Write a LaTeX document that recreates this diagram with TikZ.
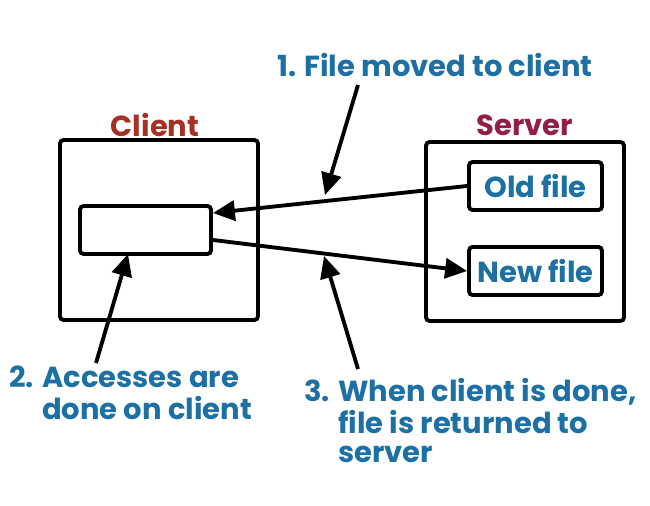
\documentclass[tikz,border=0pt]{standalone}
\usepackage{fontspec}
\setmainfont{Poppins}
\usetikzlibrary{arrows.meta}
\definecolor{notetext}{RGB}{28,112,164}
\definecolor{clientred}{RGB}{165,48,36}
\definecolor{serverred}{RGB}{148,28,72}
\tikzset{
  box/.style={draw, line width=2.2pt, rounded corners=2pt},
  note/.style={text=notetext, font=\bfseries\fontsize{16.5}{16.5}\selectfont, inner sep=0pt},
  title/.style={font=\bfseries\fontsize{16.5}{16.5}\selectfont, inner sep=0pt},
  pointer/.style={line width=2.2pt, -{Triangle[length=0.44cm,width=0.4cm]}}
}
\begin{document}
\begin{tikzpicture}[x=0.02cm, y=-0.02cm]
    \useasboundingbox (0,0) rectangle (650,506);
    % client side
    \node[box, minimum width=3.96cm, minimum height=3.6cm] (client) at (159,230) {};
    \node[title, text=clientred] (clientlbl) at (155,125) {Client};
    \node[box, minimum width=2.62cm, minimum height=0.96cm] (copy) at (145.5,230) {};
    % server side
    \node[box, minimum width=3.96cm, minimum height=3.58cm] (server) at (525,231.5) {};
    \node[title, text=serverred] (serverlbl) at (525,125) {Server};
    \node[box, note, minimum width=2.66cm, minimum height=0.96cm] (oldfile) at (535.5,186) {Old file};
    \node[box, note, minimum width=2.66cm, minimum height=0.96cm] (newfile) at (535.5,271) {New file};
    % file moves
    \draw[pointer] (oldfile.west) -- ([yshift=0.34cm]copy.east);
    \draw[pointer] ([yshift=-0.2cm]copy.east) -- (newfile.west);
    % notes
    \node[note] (note1) at (435,65) {1. File moved to client};
    \node[note, anchor=north west] (note2) at (9,366) {\begin{tabular}{@{}l@{ }l@{}}2.&Accesses are\\&done on client\end{tabular}};
    \node[note, anchor=north west] (note3) at (304,378) {\begin{tabular}{@{}l@{ }l@{}}3.&When client is done,\\&file is returned to\\&server\end{tabular}};
    \coordinate (from1) at (358,85);  \coordinate (tip1) at (325,195);
    \coordinate (from2) at (96,363);  \coordinate (tip2) at (128,254);
    \coordinate (from3) at (358,369); \coordinate (tip3) at (324,256);
    \draw[pointer] (from1) -- (tip1);
    \draw[pointer] (from2) -- (tip2);
    \draw[pointer] (from3) -- (tip3);
\end{tikzpicture}
\end{document}
